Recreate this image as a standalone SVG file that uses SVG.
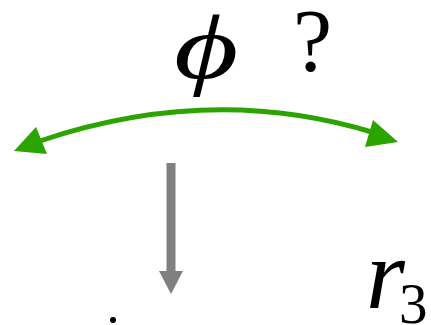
<svg xmlns="http://www.w3.org/2000/svg" width="431" height="325" viewBox="0 0 431 325">
<rect width="431" height="325" fill="#fff"/>
<g id="connectors">
<path d="M40,141 Q212,83 375,133" fill="none" stroke="#2ca400" stroke-width="5"/>
<polygon points="14,151 36,127 47,154" fill="#2ca400"/>
<polygon points="398,142 373,120 365,147" fill="#2ca400"/>
<rect x="166.5" y="163" width="9" height="110" fill="#808080"/>
<polygon points="159,271 183,271 171,294" fill="#808080"/>
</g>
<g font-family="Liberation Serif, serif" fill="#000">
<g id="phi"><text font-style="italic" transform="translate(174,78) scale(1.38,1)" font-size="90">ϕ</text></g>
<g id="q"><text x="293" y="70" font-size="88">?</text></g>
<g id="r3"><text font-style="italic" x="366" y="308" font-size="100">r</text><text x="399" y="323" font-size="57">3</text></g>
</g>
<g id="dot"><circle cx="113" cy="320" r="3" fill="#000"/></g>
</svg>
